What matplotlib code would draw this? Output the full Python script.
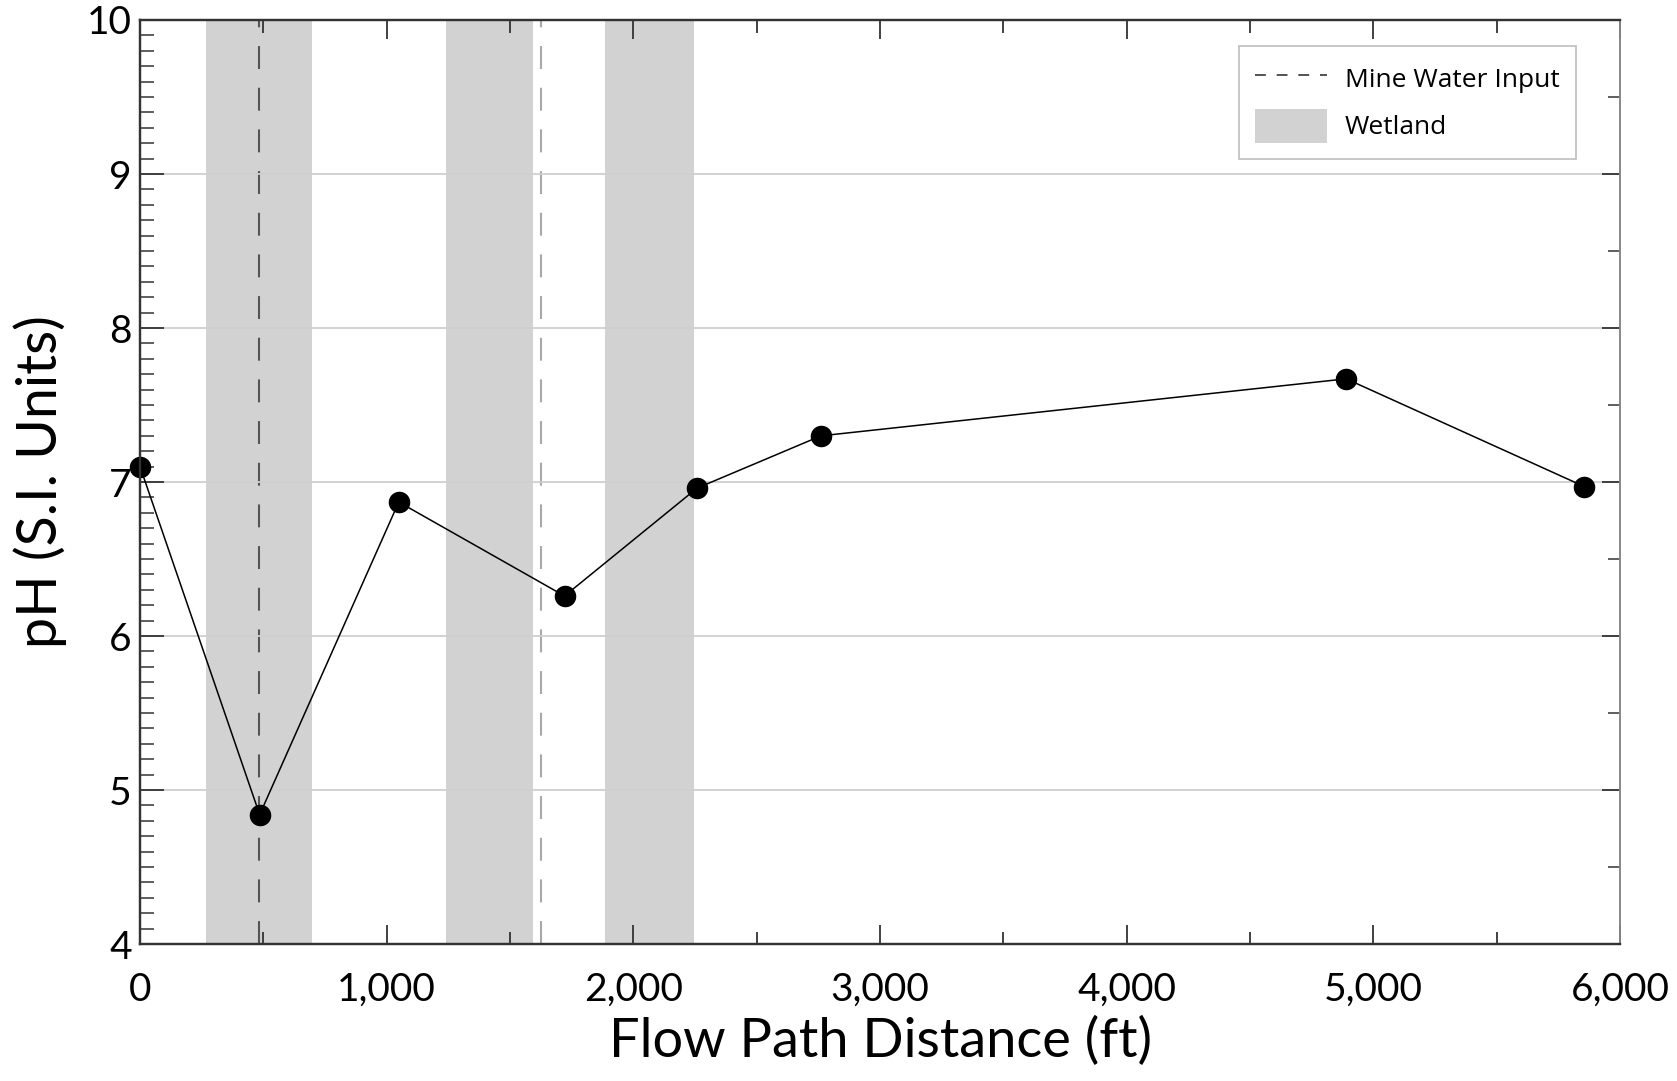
import matplotlib
matplotlib.use('Agg')
from matplotlib import pyplot as plt
from matplotlib.ticker import MultipleLocator, FuncFormatter
from matplotlib.lines import Line2D
from matplotlib.patches import Patch

# pH sampling stations along the flow path
distance = [0, 485, 1049, 1721, 2258, 2761, 4890, 5856]
ph = [7.10, 4.84, 6.87, 6.26, 6.96, 7.30, 7.67, 6.97]

# wetland reaches (start, end) in ft
wetlands = [(269, 698), (1240, 1595), (1886, 2245)]

# mine water inputs
inputs = [481, 1625]
input_colors = ['#555555', '#a8a8a8']

plt.rcParams['font.family'] = ['Lato', 'DejaVu Sans']

fig = plt.figure(figsize=(16.77, 10.81), dpi=100)
ax = fig.add_axes([0.0835, 0.1267, 0.8825, 0.8548])

for x0, x1 in wetlands:
    ax.axvspan(x0, x1, facecolor='#d2d2d2', edgecolor='none', zorder=1)

for x, c in zip(inputs, input_colors):
    ax.axvline(x, color=c, linewidth=1.5, dashes=(11, 9), zorder=2)

ax.yaxis.grid(True, color='#cfcfcf', linewidth=1.3, zorder=3)
ax.set_axisbelow(False)

ax.plot(distance, ph, color='black', linewidth=1.1, marker='o',
        markersize=14.5, zorder=5, clip_on=False)

ax.set_xlim(0, 6000)
ax.set_ylim(4, 10)
ax.xaxis.set_major_locator(MultipleLocator(1000))
ax.xaxis.set_minor_locator(MultipleLocator(500))
ax.yaxis.set_major_locator(MultipleLocator(1))
ax.yaxis.set_minor_locator(MultipleLocator(0.1))
ax.xaxis.set_major_formatter(FuncFormatter(lambda v, p: f'{v:,.0f}'))

ax.tick_params(axis='both', which='both', direction='in', colors='#333333',
               labelcolor='black', labelsize=28)
ax.tick_params(axis='x', which='both', top=True)
ax.tick_params(axis='x', which='major', length=14, width=1.3, pad=20)
ax.tick_params(axis='x', which='minor', length=9, width=1.3)
ax.tick_params(axis='y', which='major', length=17, width=1.3, pad=6)
ax.tick_params(axis='y', which='minor', length=10, width=1.1)

# right-hand axis carries coarser ticks
ax2 = ax.twinx()
ax2.set_ylim(4, 10)
ax2.yaxis.set_major_locator(MultipleLocator(1))
ax2.yaxis.set_minor_locator(MultipleLocator(0.5))
ax2.tick_params(axis='y', which='both', direction='in', colors='#333333',
                labelright=False)
ax2.tick_params(axis='y', which='major', length=13, width=1.3)
ax2.tick_params(axis='y', which='minor', length=9, width=1.1)

for a in (ax, ax2):
    for side in ('left', 'bottom', 'top'):
        a.spines[side].set_color('#333333')
        a.spines[side].set_linewidth(1.6)
    a.spines['right'].set_color('#8a8a8a')
    a.spines['right'].set_linewidth(1.3)

ax.set_xlabel('Flow Path Distance (ft)', fontsize=39, labelpad=6)
ax.set_ylabel('pH (S.I. Units)', fontsize=40, labelpad=14)

handles = [
    Line2D([], [], color='#444444', linewidth=1.3, dashes=(6, 6)),
    Patch(facecolor='#d2d2d2', edgecolor='none'),
]
leg = ax2.legend(handles, ['Mine Water Input', 'Wetland'],
                 loc='upper right', bbox_to_anchor=(0.970, 0.972),
                 borderaxespad=0,
                 fancybox=False, framealpha=1, edgecolor='#bdbdbd',
                 prop={'family': ['Open Sans', 'DejaVu Sans'], 'size': 19},
                 handlelength=2.7, handleheight=1.6, borderpad=0.6,
                 labelspacing=0.5, handletextpad=0.7)
leg.get_frame().set_linewidth(1.2)

fig.savefig('out.png', dpi=100)
